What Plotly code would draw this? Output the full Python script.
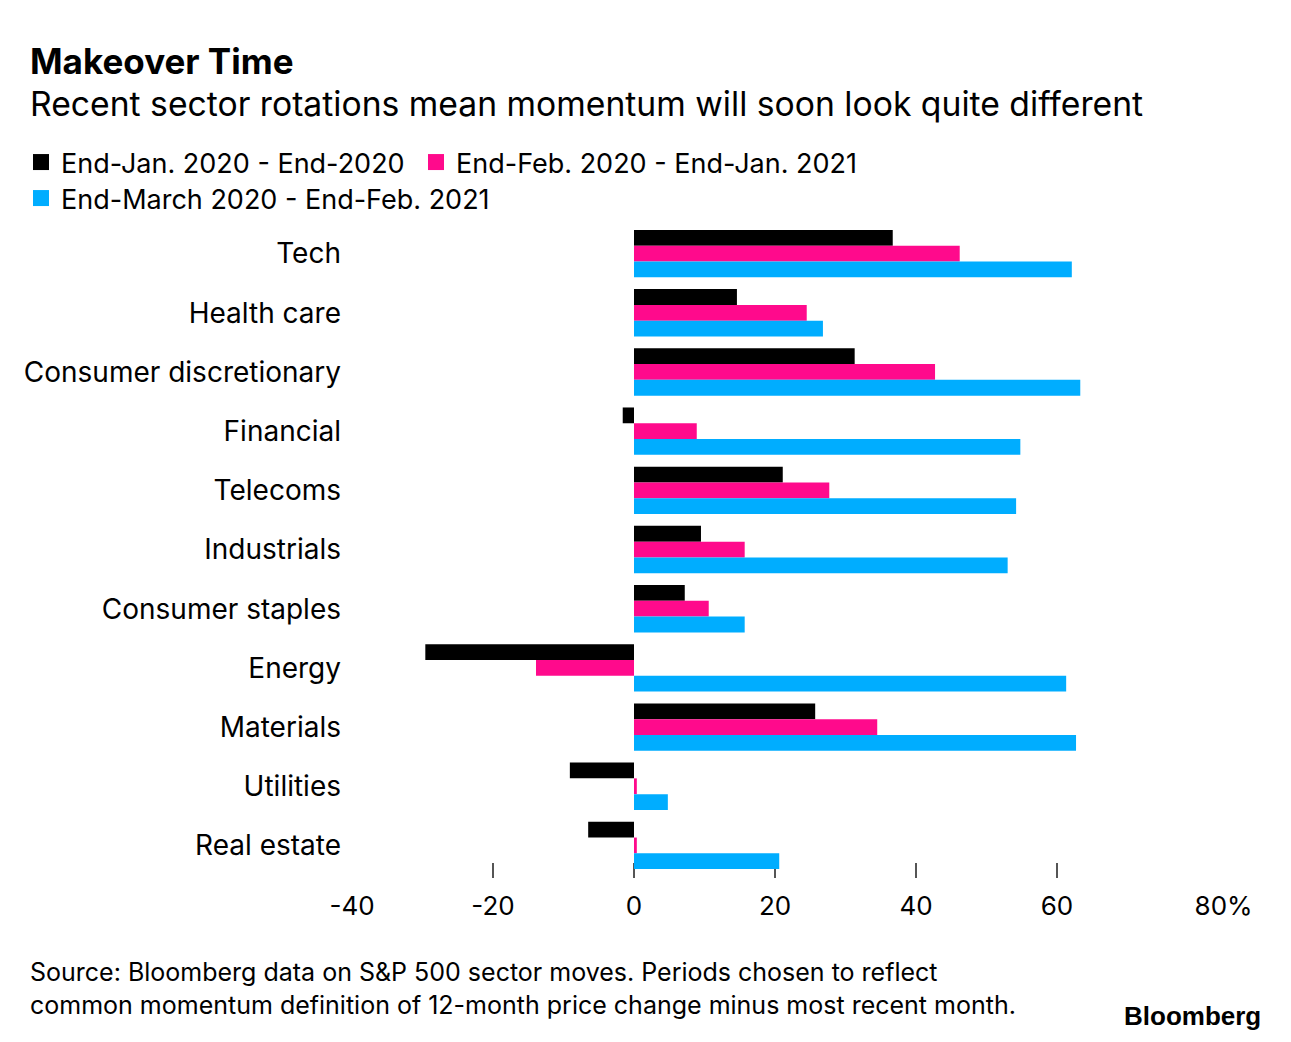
import plotly.graph_objects as go

sectors = ["Tech", "Health care", "Consumer discretionary", "Financial", "Telecoms",
           "Industrials", "Consumer staples", "Energy", "Materials", "Utilities", "Real estate"]
series_names = ["End-Jan. 2020 - End-2020", "End-Feb. 2020 - End-Jan. 2021",
                "End-March 2020 - End-Feb. 2021"]
jan20_end20 = [36.7, 14.6, 31.3, -1.6, 21.1, 9.5, 7.2, -29.6, 25.7, -9.1, -6.5]
feb20_jan21 = [46.2, 24.5, 42.7, 8.9, 27.7, 15.7, 10.6, -13.9, 34.5, 0.4, 0.4]
mar20_feb21 = [62.1, 26.8, 63.3, 54.8, 54.2, 53.0, 15.7, 61.3, 62.7, 4.8, 20.6]
tick_vals = [-40, -20, 0, 20, 40, 60, 80]
tick_text = ["-40", "-20", "0", "20", "40", "60", "\u00a0\u00a0\u00a0\u00a0\u00a0\u00a0\u00a080%"]
tick_mark_vals = [-20, 0, 20, 40, 60, 80]

colors = ["#000000", "#ff0a8c", "#00adff"]
FONT = "Inter, Liberation Sans, Arial, sans-serif"

W, H = 1291, 1042
L, R, T, B = 352, 93, 224, 164
pw, ph = W - L - R, H - T - B

def px_x(x):
    return (x - L) / pw

def px_y(y):
    return (H - B - y) / ph

fig = go.Figure()
all_series = [jan20_end20, feb20_jan21, mar20_feb21]
for i, (name, vals) in enumerate(zip(series_names, all_series)):
    fig.add_trace(go.Bar(
        y=sectors, x=vals, name=name, orientation="h",
        marker=dict(color=colors[i], line=dict(width=0)),
        legendgroup=name, showlegend=False, hoverinfo="x+y",
    ))
legend_ids = ["legend", "legend3", "legend2"]
for i, name in enumerate(series_names):
    fig.add_trace(go.Scatter(
        x=[None], y=[None], mode="markers", name=name, legendgroup=name,
        marker=dict(symbol="square", size=20, color=colors[i]),
        legend=legend_ids[i],
    ))

# helper trace for the tick-mark axis
fig.add_trace(go.Scatter(x=[None], y=[None], xaxis="x2", yaxis="y",
                         showlegend=False, hoverinfo="skip"))

def legend_box(xpx, ypx):
    return dict(orientation="h", xref="container", yref="container",
                x=xpx / W, y=1 - ypx / H, xanchor="left", yanchor="top",
                font=dict(size=27), bgcolor="rgba(0,0,0,0)", itemclick=False)

fig.update_layout(
    width=W, height=H,
    margin=dict(l=L, r=R, t=T, b=B, pad=0, autoexpand=False),
    paper_bgcolor="white", plot_bgcolor="white",
    font=dict(family=FONT, color="#000000", size=26),
    barmode="group", bargap=0.2, bargroupgap=0,
    xaxis=dict(range=[-40, 80], tickvals=tick_vals, ticktext=tick_text,
               showgrid=False, zeroline=False, showline=False, ticks="",
               tickfont=dict(size=26), ticklabelstandoff=10, fixedrange=True),
    xaxis2=dict(range=[-40, 80], overlaying="x", side="bottom", anchor="y",
                tickvals=tick_mark_vals, showticklabels=False, ticks="inside",
                ticklen=15, tickwidth=2, tickcolor="#555555", showgrid=False,
                zeroline=False, showline=False, layer="below traces", fixedrange=True),
    yaxis=dict(categoryorder="array", categoryarray=sectors, range=[10.55, -0.5],
               showgrid=False, zeroline=False, showline=False, ticks="",
               tickfont=dict(size=28), ticklabelstandoff=10, fixedrange=True),
    legend=legend_box(21, 138),
    legend3=legend_box(416, 138),
    legend2=legend_box(21, 174),
    showlegend=True,
)

fig.add_annotation(text="<b>Makeover Time</b>", xref="paper", yref="paper",
                   x=px_x(28), y=px_y(61), xanchor="left", yanchor="middle",
                   showarrow=False, font=dict(size=35, family=FONT))
fig.add_annotation(text="Recent sector rotations mean momentum will soon look quite different",
                   xref="paper", yref="paper", x=px_x(28), y=px_y(103),
                   xanchor="left", yanchor="middle", showarrow=False,
                   font=dict(size=33.7, family=FONT))
fig.add_annotation(text="Source: Bloomberg data on S&P 500 sector moves. Periods chosen to reflect<br>"
                        "common momentum definition of 12-month price change minus most recent month.",
                   xref="paper", yref="paper", x=px_x(28), y=px_y(988),
                   xanchor="left", yanchor="middle", align="left", showarrow=False,
                   font=dict(size=25, family=FONT))
fig.add_annotation(text="<b>Bloomberg</b>", xref="paper", yref="paper",
                   x=px_x(1263), y=px_y(1016), xanchor="right", yanchor="middle",
                   showarrow=False, font=dict(size=26, family="Liberation Sans, Arial, sans-serif"))

fig.write_html("out.html", config={"displayModeBar": False},
               post_script="document.body.style.margin='0';document.body.style.overflow='hidden';")
